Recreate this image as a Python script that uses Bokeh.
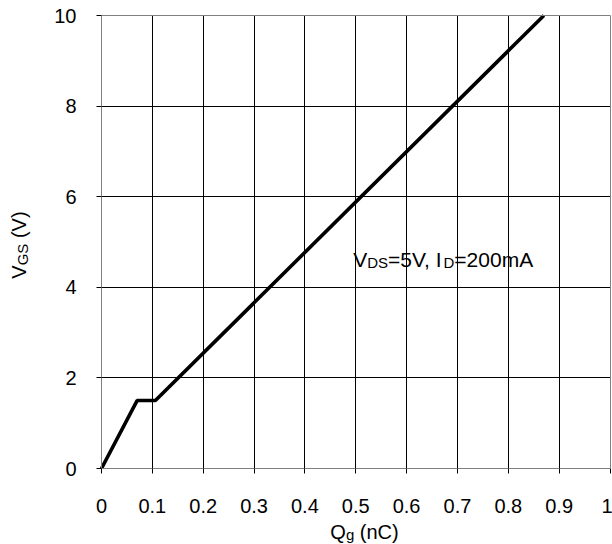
import math
from bokeh.plotting import figure
from bokeh.models import Label, FixedTicker, Range1d, LinearAxis
from bokeh.embed import file_html
from bokeh.resources import INLINE

# ---- data ----
q_g = [0.0, 0.07, 0.106, 0.87]      # gate charge, nC
v_gs = [0.0, 1.5, 1.5, 10.0]        # gate-source voltage, V

x_ticks = [0.0, 0.1, 0.2, 0.3, 0.4, 0.5, 0.6, 0.7, 0.8, 0.9, 1.0]
x_tick_labels = ["0", "0.1", "0.2", "0.3", "0.4", "0.5", "0.6", "0.7", "0.8", "0.9", "1"]
y_ticks = [0, 2, 4, 6, 8, 10]
y_tick_labels = ["0", "2", "4", "6", "8", "10"]
x_grid = [0.1, 0.2, 0.3, 0.4, 0.5, 0.6, 0.7, 0.8, 0.9]
y_grid = [2, 4, 6, 8]

FONT = "Liberation Sans"
GRAY = "#808080"

# ---- layout (pixels in the picture) ----
W, H = 612, 544
X_LO_PX, X_HI_PX = 101.0, 609.5    # where the first / last x tick fall
Y_LO_PX, Y_HI_PX = 468.0, 15.0     # where the first / last y tick fall
x_min, x_max = x_ticks[0], x_ticks[-1]
y_min, y_max = y_ticks[0], y_ticks[-1]
kx = (X_HI_PX - X_LO_PX) / (x_max - x_min)
ky = (Y_LO_PX - Y_HI_PX) / (y_max - y_min)
xr = Range1d(x_min - X_LO_PX / kx, x_min + (W - X_LO_PX) / kx)
yr = Range1d(y_min - (H - Y_LO_PX) / ky, y_max + Y_HI_PX / ky)

# Arial / Liberation Sans advance widths (per 1000 em)
AW = {'V': 667, 'D': 722, 'S': 667, 'G': 778, '=': 584, '5': 556, ',': 278,
      ' ': 278, 'I': 278, '2': 556, '0': 556, 'm': 833, 'A': 667, 'Q': 778,
      'g': 556, '(': 333, 'n': 556, 'C': 722, ')': 333}


def tw(s, size):
    return sum(AW.get(c, 556) for c in s) * size / 1000.0


p = figure(width=W, height=H, x_range=xr, y_range=yr,
           output_backend="svg", toolbar_location=None, min_border=0)
p.min_border_left = 0
p.min_border_right = 0
p.min_border_top = 0
p.min_border_bottom = 0
p.background_fill_color = "white"
p.border_fill_color = "white"
p.outline_line_color = None

for ax in (p.xaxis[0], p.yaxis[0]):
    ax.axis_line_color = GRAY
    ax.axis_line_width = 1
    ax.major_tick_line_color = "black"
    ax.major_tick_out = 5
    ax.major_tick_in = 0
    ax.minor_tick_line_color = None
    ax.major_label_text_font = FONT
    ax.major_label_text_font_size = "20px"
    ax.major_label_text_color = "black"

p.xaxis.fixed_location = y_min
p.xaxis.bounds = (x_min, x_max)
p.xaxis.ticker = FixedTicker(ticks=x_ticks)
p.xaxis.major_label_overrides = {t: l for t, l in zip(x_ticks, x_tick_labels)}
p.xaxis.major_label_standoff = 25

p.yaxis.fixed_location = x_min
p.yaxis.bounds = (y_min, y_max)
p.yaxis.ticker = FixedTicker(ticks=y_ticks)
p.yaxis.major_label_overrides = {t: l for t, l in zip(y_ticks, y_tick_labels)}
p.yaxis.major_label_standoff = 20

# top and right frame edges
for side, loc, bnds in (("above", y_max, (x_min, x_max)), ("right", x_max, (y_min, y_max))):
    edge = LinearAxis(fixed_location=loc, bounds=bnds, ticker=FixedTicker(ticks=[]),
                      axis_line_color=GRAY, axis_line_width=1,
                      major_tick_line_color=None, minor_tick_line_color=None,
                      major_label_text_font_size="0px")
    p.add_layout(edge, side)

p.xgrid.ticker = FixedTicker(ticks=x_grid)
p.ygrid.ticker = FixedTicker(ticks=y_grid)
for g, cb in ((p.xgrid[0], (y_min, y_max)), (p.ygrid[0], (x_min, x_max))):
    g.grid_line_color = "black"
    g.grid_line_width = 1
    g.grid_line_alpha = 1.0
    try:
        g.cross_bounds = cb
    except Exception:
        pass

p.line(q_g, v_gs, line_color="black", line_width=3.6)

BASE_FIX = 7.0   # px: lift Bokeh's alphabetic baseline onto the intended one


def rich(x, y, parts, vertical=False):
    """parts: list of (text, font_px, baseline_shift_px_down)."""
    adv = 0.0
    for text, size, shift in parts:
        lead = len(text) - len(text.lstrip(" "))
        adv += tw(" " * lead, size)
        body = text.lstrip(" ")
        if vertical:
            lab = Label(x=x, y=y, x_offset=shift - BASE_FIX, y_offset=adv, text=body,
                        angle=math.pi / 2)
        else:
            lab = Label(x=x, y=y, x_offset=adv, y_offset=BASE_FIX - shift, text=body)
        lab.text_font = FONT
        lab.text_font_size = f"{size}px"
        lab.text_color = "black"
        lab.text_align = "left"
        lab.text_baseline = "alphabetic"
        p.add_layout(lab)
        adv += tw(body, size)


# annotation V_DS=5V, I_D=200mA
rich(0.495, 4.46, [("V", 21, 0), ("DS", 15, 3), ("=5V, I", 21, 0),
                   ("D", 15, 3), ("=200mA", 21, 0)])
# x axis title Q_g (nC)
rich(0.45, -1.55, [("Q", 20, 0), ("g", 15, 3), (" (nC)", 20, 0)])
# y axis title V_GS (V)
rich(-0.1476, 4.19, [("V", 20, 0), ("GS", 15, 3), (" (V)", 20, 0)], vertical=True)

open("out.html", "w").write(file_html(p, INLINE))
